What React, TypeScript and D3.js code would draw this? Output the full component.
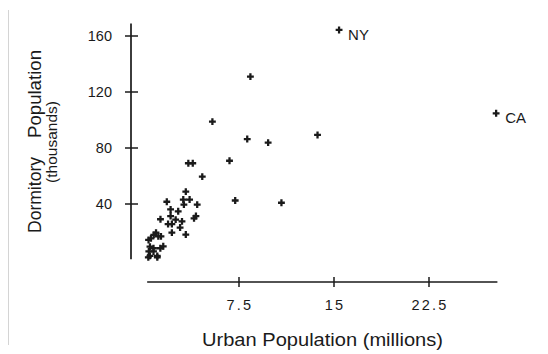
import React, { useEffect, useRef } from 'react';
import * as d3 from 'd3';

// urban population (millions) per state
const urbanPop = [
  15.4, 27.8, 13.7, 8.4, 5.4, 8.15, 9.8, 3.5, 3.85, 6.75,
  4.6, 3.3, 1.8, 3.1, 3.6, 4.2, 3.15, 7.2, 10.85, 2.1,
  2.7, 4.1, 3.95, 1.3, 2.1, 2.5, 3.0, 1.9, 2.2, 2.85,
  2.2, 3.3, 0.95, 0.77, 0.55, 0.36, 1.13, 1.34, 1.52, 1.29,
  0.47, 0.75, 0.38, 0.75, 0.47, 1.05, 0.34, 1.05
];
// dormitory population (thousands) per state
const dormPop = [
  164.3, 104.8, 89.3, 131, 98.8, 86.4, 83.8, 69.1, 69.1, 70.9,
  59.5, 48.8, 41.6, 43.2, 43.2, 39.5, 39.5, 42.5, 40.9, 36.1,
  34.8, 31.4, 29.8, 29.1, 31.4, 28.8, 27.6, 25.7, 25.7, 23.2,
  19.5, 18.2, 19.5, 17.9, 15.5, 14.3, 16.9, 16.9, 9.8, 8.4,
  9.5, 8.4, 6.1, 6.1, 2.9, 2.9, 1.9, 1.9
];
const pointLabels = ['NY', 'CA'];

const xTicks = [7.5, 15, 22.5];
const yTicks = [40, 80, 120, 160];

const App = () => {
  const ref = useRef<SVGSVGElement>(null);

  useEffect(() => {
    const svg = d3.select(ref.current);
    svg.selectAll('*').remove();

    const ink = '#1a1a1a';
    const font = 'Liberation Sans, Arial, sans-serif';

    const x = d3.scaleLinear().domain([0, 22.5]).range([144, 429]);
    const y = d3.scaleLinear().domain([0, 160]).range([260, 36]);

    // faint scan edge on the left
    svg.append('line')
      .attr('x1', 8.5).attr('x2', 8.5).attr('y1', 10).attr('y2', 345)
      .attr('stroke', '#d4d4d4').attr('stroke-width', 1);

    // y axis (offset, ticks crossing the line)
    const yAxisX = 131;
    const gy = svg.append('g');
    gy.append('line')
      .attr('x1', yAxisX).attr('x2', yAxisX)
      .attr('y1', y(169)).attr('y2', y(0.6))
      .attr('stroke', ink).attr('stroke-width', 1.7);
    yTicks.forEach(t => {
      gy.append('line')
        .attr('x1', yAxisX - 6).attr('x2', yAxisX + 7)
        .attr('y1', y(t)).attr('y2', y(t))
        .attr('stroke', ink).attr('stroke-width', 1.5);
      gy.append('text')
        .attr('x', 112).attr('y', y(t) + 5)
        .attr('text-anchor', 'end')
        .attr('font-family', font).attr('font-size', 14.5)
        .attr('fill', ink)
        .text(t);
    });

    // x axis
    const xAxisY = 282;
    const gx = svg.append('g');
    gx.append('line')
      .attr('x1', x(0.25)).attr('x2', x(27.9))
      .attr('y1', xAxisY).attr('y2', xAxisY)
      .attr('stroke', ink).attr('stroke-width', 1.5);
    xTicks.forEach(t => {
      gx.append('line')
        .attr('x1', x(t)).attr('x2', x(t))
        .attr('y1', xAxisY - 5).attr('y2', xAxisY + 5)
        .attr('stroke', ink).attr('stroke-width', 1.5);
      gx.append('text')
        .attr('x', x(t) + 1).attr('y', 310)
        .attr('text-anchor', 'middle')
        .attr('font-family', font).attr('font-size', 14.5)
        .attr('letter-spacing', 2.2)
        .attr('fill', ink)
        .text(t);
    });

    // axis titles
    svg.append('text')
      .attr('x', 202).attr('y', 346)
      .attr('textLength', 241)
      .attr('lengthAdjust', 'spacingAndGlyphs')
      .attr('font-family', font).attr('font-size', 17.5)
      .attr('fill', ink)
      .text('Urban Population (millions)');

    // y title: two words with a wide gap, as in the original
    [['Dormitory', 233, 76], ['Population', 138, 88]].forEach(([word, yPos, len]) => {
      svg.append('text')
        .attr('transform', `translate(41,${yPos}) rotate(-90)`)
        .attr('textLength', len as number)
        .attr('lengthAdjust', 'spacingAndGlyphs')
        .attr('font-family', font).attr('font-size', 17.5)
        .attr('fill', ink)
        .text(word as string);
    });
    svg.append('text')
      .attr('transform', 'translate(57,142) rotate(-90)')
      .attr('text-anchor', 'middle')
      .attr('font-family', font).attr('font-size', 15.5)
      .attr('fill', ink)
      .text('(thousands)');

    // points
    const cross = d3.symbol().type(d3.symbolCross).size(26);
    svg.append('g')
      .selectAll('path')
      .data(urbanPop.map((u, i) => ({ u, d: dormPop[i] })))
      .enter()
      .append('path')
      .attr('d', cross)
      .attr('transform', p => `translate(${x(p.u)},${y(p.d)})`)
      .attr('fill', ink);

    // state labels for the two outliers
    svg.append('g')
      .selectAll('text')
      .data(pointLabels)
      .enter()
      .append('text')
      .attr('x', (_, i) => x(urbanPop[i]) + 9)
      .attr('y', (_, i) => y(dormPop[i]) + 10)
      .attr('font-family', font).attr('font-size', 15)
      .attr('fill', ink)
      .text(d => d);
  }, []);

  return (
    <svg
      ref={ref}
      width={548}
      height={354}
      style={{ position: 'absolute', left: 0, top: 0, background: '#fff' }}
    />
  );
};

export default App;
